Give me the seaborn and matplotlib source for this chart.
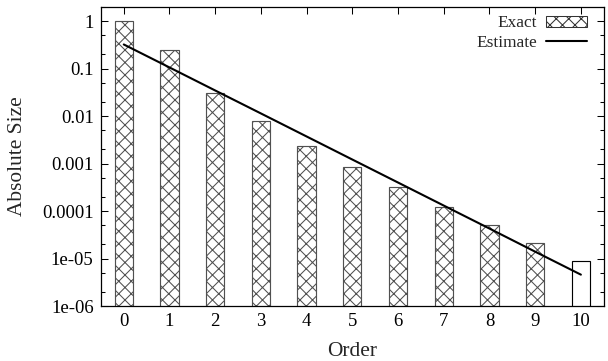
import numpy as np
import pandas as pd
import matplotlib
matplotlib.use("Agg")
import matplotlib.pyplot as plt
import seaborn as sns
from matplotlib.patches import Patch
from matplotlib.lines import Line2D
from matplotlib.ticker import LogLocator, FixedLocator, FixedFormatter, NullFormatter

# data
orders = [0, 1, 2, 3, 4, 5, 6, 7, 8, 9, 10]
exact = [1.0, 0.25, 0.031, 0.0079, 0.0024, 0.00086, 3.2e-4, 1.2e-4, 5.2e-5, 2.1e-5, 8.9e-6]
estimate = [0.323, 0.106, 0.0347, 0.0114, 0.00373, 0.00122, 4.0e-4, 1.31e-4, 4.3e-5, 1.4e-5, 4.6e-6]
ytick_vals = [1, 0.1, 0.01, 0.001, 0.0001, 1e-05, 1e-06]
ytick_labels = ["1", "0.1", "0.01", "0.001", "0.0001", "1e-05", "1e-06"]

df = pd.DataFrame({"Order": orders, "Exact": exact, "Estimate": estimate})

sns.set_theme(style="ticks")
plt.rcParams["font.family"] = ["Liberation Serif", "DejaVu Serif"]
plt.rcParams["hatch.linewidth"] = 1.0

DPI = 75
fig = plt.figure(figsize=(608 / DPI, 361 / DPI), dpi=DPI)
ax = fig.add_axes([0.166, 0.152, 0.827, 0.829])

sns.barplot(data=df, x="Order", y="Exact", color="white", width=0.4,
            edgecolor="#505050", linewidth=1.1, ax=ax, log_scale=(False, True))
for i, bar in enumerate(ax.patches):
    if i < len(orders) - 1:
        bar.set_hatch("xx")
    else:
        bar.set_edgecolor("black")

sns.lineplot(x=orders, y=estimate, color="black", linewidth=2.0, ax=ax)

ax.set_yscale("log")
ax.set_xlim(-0.5, 10.5)
ax.set_ylim(1e-6, 2)
ax.yaxis.set_major_locator(FixedLocator(ytick_vals))
ax.yaxis.set_major_formatter(FixedFormatter(ytick_labels))
ax.yaxis.set_minor_locator(LogLocator(base=10, subs=[2, 5], numticks=20))
ax.yaxis.set_minor_formatter(NullFormatter())

ax.tick_params(direction="in", which="both", top=True, right=True, labelsize=18,
               colors="black")
ax.tick_params(which="major", length=7, width=1, pad=7)
ax.tick_params(which="minor", length=4, width=1)
for s in ax.spines.values():
    s.set_visible(True)
    s.set_linewidth(1.2)
    s.set_color("black")

ax.set_xlabel("Order", fontsize=20.5, labelpad=11)
ax.set_ylabel("Absolute Size", fontsize=20.5, labelpad=14)

handles = [Patch(facecolor="white", edgecolor="#333333", hatch="xx", linewidth=1.0),
           Line2D([], [], color="black", linewidth=2.0)]
ax.legend(handles, ["Exact", "Estimate"], loc="upper right", bbox_to_anchor=(0.966, 0.972),
          frameon=False, markerfirst=False, fontsize=16.5, handlelength=2.35,
          handleheight=0.6, borderaxespad=0, borderpad=0, labelspacing=0.2,
          handletextpad=0.55)

fig.savefig("out.png", dpi=DPI)
